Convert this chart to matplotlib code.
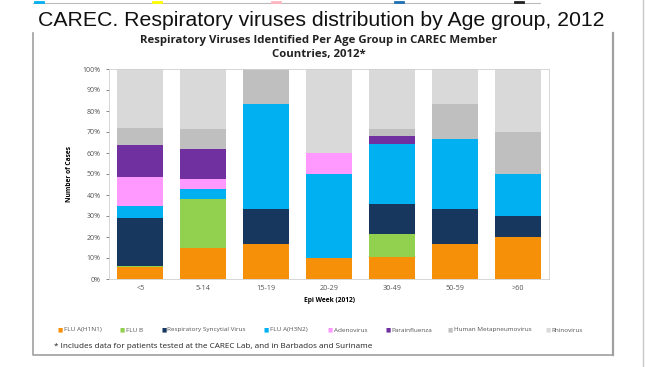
import matplotlib.pyplot as plt
from matplotlib.lines import Line2D
import numpy as np

plt.rcParams['font.family'] = ['Open Sans', 'DejaVu Sans']

ages = ['<5', '5-14', '15-19', '20-29', '30-49', '50-59', '>60']
series = ['FLU A(H1N1)', 'FLU B', 'Respiratory Syncytial Virus', 'FLU A(H3N2)',
          'Adenovirus', 'Parainfluenza', 'Human Metapneumovirus', 'Rhinovirus']
colors = ['#F79009', '#92D050', '#17375E', '#00B0F0',
          '#FF99FF', '#7030A0', '#BFBFBF', '#D9D9D9']

# percent of cases per age group, bottom to top
flu_h1n1 = [5.7, 14.6, 16.7, 10.0, 10.7, 16.7, 20.0]
flu_b = [0.6, 23.5, 0, 0, 10.7, 0, 0]
rsv = [22.6, 0, 16.7, 0, 14.3, 16.7, 10.0]
flu_h3n2 = [6.0, 4.9, 50.0, 40.0, 28.6, 33.3, 20.0]
adeno = [13.7, 4.5, 0, 10.0, 0, 0, 0]
parainf = [15.4, 14.6, 0, 0, 3.6, 0, 0]
hmpv = [8.0, 9.3, 16.6, 0, 3.5, 16.7, 20.0]
rhino = [28.0, 28.6, 0, 40.0, 28.6, 16.6, 30.0]

data = [flu_h1n1, flu_b, rsv, flu_h3n2, adeno, parainf, hmpv, rhino]

fig = plt.figure(figsize=(6.5, 3.67), dpi=100)
W, H = 650, 367

def fx(x):
    return x / W

def fy(y):
    return 1 - y / H

# slide title
fig.text(fx(321), fy(20), 'CAREC. Respiratory viruses distribution by Age group, 2012',
         ha='center', va='center', fontsize=15.3, color='#111111', family=['Liberation Sans'])

# top strip remnants
fig.add_artist(Line2D([fx(33), fx(540)], [fy(3), fy(3)], color='#BBBBBB', lw=0.8))
for x0, c in [(35, '#00B0F0'), (153, '#FFFF00'), (272, '#FFB6C1'), (395, '#1F6FB5'), (515, '#222222')]:
    fig.add_artist(Line2D([fx(x0), fx(x0 + 8)], [fy(1.5), fy(1.5)], color=c, lw=2))

# box around the chart image
fig.add_artist(Line2D([fx(33), fx(33), fx(613)], [fy(33), fy(355), fy(355)],
                      color='#A0A0A0', lw=1.2))
fig.add_artist(Line2D([fx(613), fx(613)], [fy(33), fy(355)], color='#A0A0A0', lw=1.6))
fig.add_artist(Line2D([fx(643), fx(643)], [fy(0), fy(367)], color='#C8C8C8', lw=1))

fig.text(fx(319), fy(41), 'Respiratory Viruses Identified Per Age Group in CAREC Member',
         ha='center', va='center', fontsize=8.2, fontweight='bold', color='#222222')
fig.text(fx(319), fy(55), 'Countries, 2012*',
         ha='center', va='center', fontsize=8.2, fontweight='bold', color='#222222')

ax = fig.add_axes([fx(109), fy(279), fx(549) - fx(109), (279 - 69) / H])
x = np.arange(len(ages))
bottom = np.zeros(len(ages))
for vals, name, c in zip(data, series, colors):
    ax.bar(x, vals, width=0.73, bottom=bottom, color=c, label=name, linewidth=0)
    bottom += np.array(vals)

ax.set_xlim(-0.5, len(ages) - 0.5)
ax.set_ylim(0, 100)
ax.set_yticks(np.arange(0, 101, 10))
ax.set_yticklabels([f'{v}%' for v in range(0, 101, 10)])
ax.set_xticks(x)
ax.set_xticklabels(ages)
ax.tick_params(axis='y', labelsize=5, colors='#555555', length=2, width=0.5, pad=4)
ax.tick_params(axis='x', labelsize=5.2, colors='#555555', length=0, pad=4)
for s in ax.spines.values():
    s.set_color('#D0D0D0')
    s.set_linewidth(0.6)
ax.set_ylabel('Number of Cases', fontsize=4.8, fontweight='bold', labelpad=7)
ax.set_xlabel('Epi Week (2012)', fontsize=4.8, fontweight='bold', labelpad=4)

# legend row
leg_x = [58, 120, 161, 264, 328, 385, 448, 545]
for lx, name, c in zip(leg_x, series, colors):
    fig.text(fx(lx), fy(330), '■', color=c, fontsize=4, ha='left', va='center',
             family=['DejaVu Sans'])
    fig.text(fx(lx + 6), fy(330), name, color='#555555', fontsize=4.6, ha='left', va='center')

fig.text(fx(54), fy(347), '* Includes data for patients tested at the CAREC Lab, and in Barbados and Suriname',
         fontsize=5.9, ha='left', va='center', color='#222222')

fig.savefig('out.png', dpi=100)
